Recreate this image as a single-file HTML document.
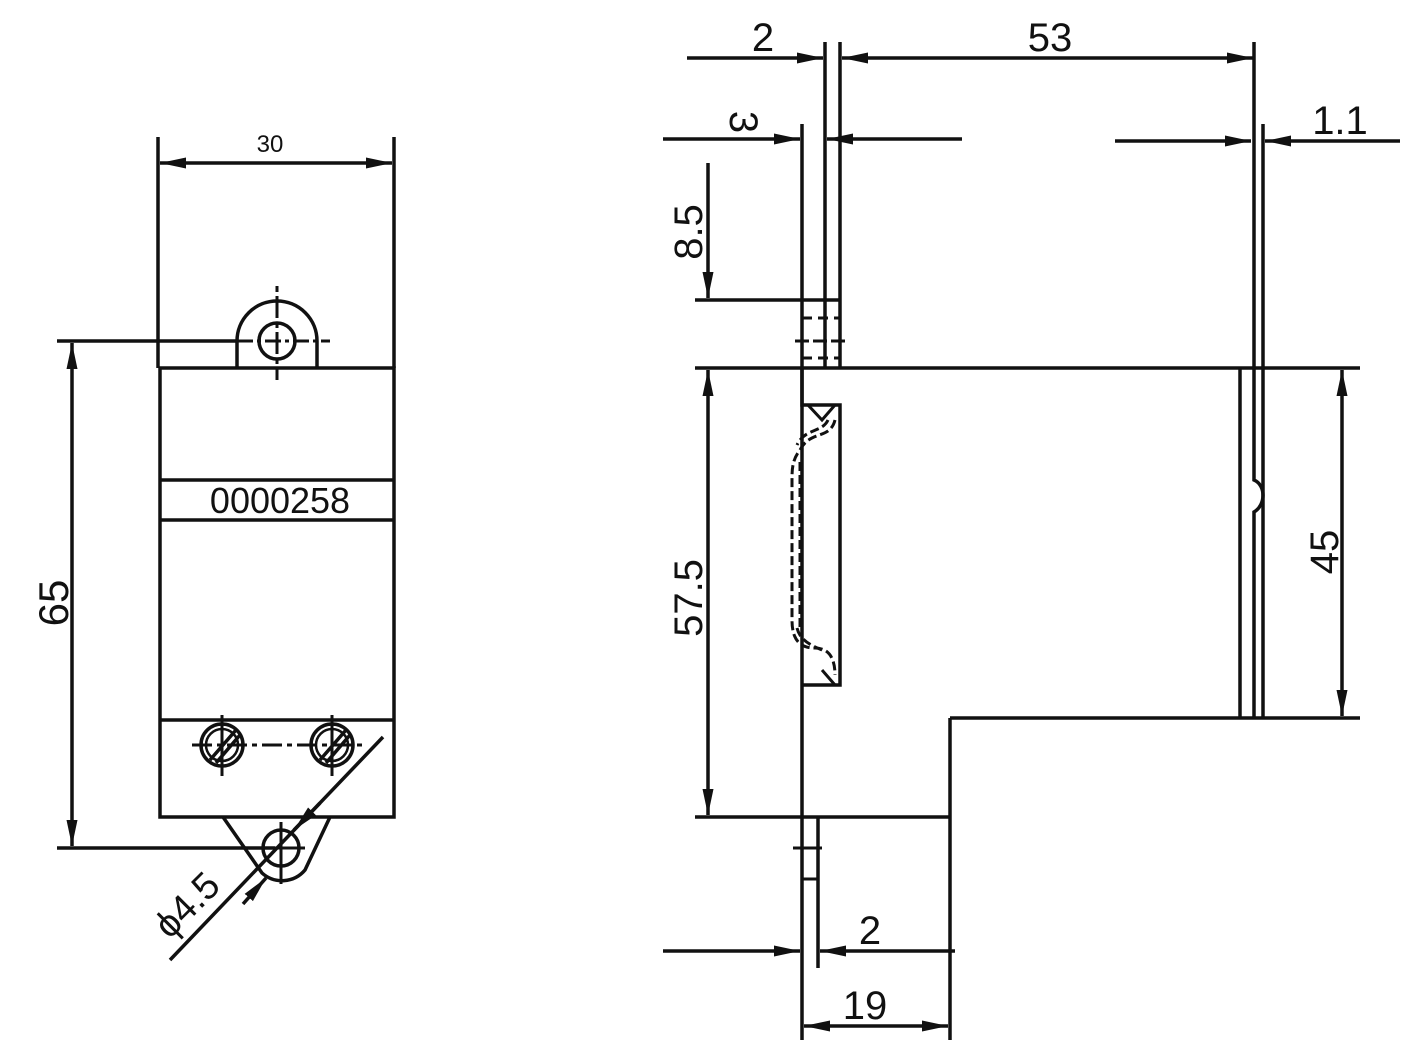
<!DOCTYPE html>
<html><head><meta charset="utf-8"><style>html,body{margin:0;padding:0;background:#fff}svg{display:block}</style></head>
<body>
<svg width="1422" height="1052" viewBox="0 0 1422 1052" xmlns="http://www.w3.org/2000/svg" font-family="Liberation Sans, DejaVu Sans, sans-serif">
<defs>
<marker id="a" viewBox="0 0 26 12" refX="26" refY="6" markerWidth="26" markerHeight="12" markerUnits="userSpaceOnUse" orient="auto-start-reverse"><path d="M0,0.5 L26,6 L0,11.5 z" fill="#111"/></marker>
</defs>
<g stroke="#111" stroke-width="3.5" fill="none" stroke-linecap="butt">
<!-- LEFT VIEW -->
<rect x="160" y="368" width="234" height="449"/>
<line x1="160" y1="480" x2="394" y2="480"/>
<line x1="160" y1="520" x2="394" y2="520"/>
<line x1="160" y1="720" x2="394" y2="720"/>
<line x1="158" y1="137" x2="158" y2="368"/>
<line x1="394" y1="137" x2="394" y2="368"/>
<line x1="160" y1="163" x2="392" y2="163" marker-start="url(#a)" marker-end="url(#a)"/>
<path d="M237,368 V341 A40,40 0 0 1 317,341 V368"/>
<circle cx="277" cy="341" r="18"/>
<line x1="277" y1="286" x2="277" y2="380" stroke-dasharray="6,4,22,4" stroke-width="3"/>
<line x1="57" y1="341" x2="237" y2="341"/>
<line x1="237" y1="341" x2="330" y2="341" stroke-dasharray="16,4,4,4" stroke-width="3"/>
<line x1="57" y1="848" x2="275" y2="848"/>
<line x1="72" y1="343" x2="72" y2="846" marker-start="url(#a)" marker-end="url(#a)"/>
<!-- screws -->
<circle cx="222" cy="745" r="21"/><circle cx="222" cy="745" r="16" stroke-width="2.5"/>
<circle cx="332" cy="745" r="21"/><circle cx="332" cy="745" r="16" stroke-width="2.5"/>
<line x1="210" y1="760" x2="236" y2="730"/><line x1="216" y1="763" x2="240" y2="735"/>
<line x1="320" y1="760" x2="346" y2="730"/><line x1="326" y1="763" x2="350" y2="735"/>
<line x1="192" y1="745" x2="362" y2="745" stroke-dasharray="20,5,5,5" stroke-width="3"/>
<line x1="222" y1="715" x2="222" y2="776" stroke-width="3"/>
<line x1="332" y1="715" x2="332" y2="776" stroke-width="3"/>
<!-- bottom tab -->
<path d="M223,817 L262,873 A30,30 0 0 0 305,870 L330,817"/>
<circle cx="281" cy="848" r="18"/>
<line x1="281" y1="822" x2="281" y2="884" stroke-width="3"/>
<line x1="255" y1="848" x2="305" y2="848" stroke-width="3"/>
<line x1="383" y1="737" x2="170" y2="960"/>
<line x1="320" y1="803" x2="294" y2="830" marker-end="url(#a)"/>
<line x1="243" y1="904" x2="266" y2="878" marker-end="url(#a)"/>
<!-- RIGHT VIEW -->
<line x1="802" y1="124" x2="802" y2="1040"/>
<line x1="825" y1="42" x2="825" y2="368"/>
<line x1="840" y1="42" x2="840" y2="368"/>
<line x1="687" y1="58" x2="823" y2="58" marker-end="url(#a)"/>
<line x1="842" y1="58" x2="1253" y2="58" marker-start="url(#a)" marker-end="url(#a)"/>
<line x1="663" y1="139" x2="800" y2="139" marker-end="url(#a)"/>
<line x1="827" y1="139" x2="962" y2="139" marker-start="url(#a)"/>
<line x1="708" y1="163" x2="708" y2="298" marker-end="url(#a)"/>
<line x1="695" y1="300" x2="840" y2="300"/>
<line x1="695" y1="368" x2="1360" y2="368"/>
<g stroke-width="3"><line x1="802" y1="318" x2="840" y2="318" stroke-dasharray="10,6"/><line x1="795" y1="341" x2="845" y2="341" stroke-dasharray="14,4"/><line x1="802" y1="358" x2="840" y2="358" stroke-dasharray="10,6"/></g>
<line x1="708" y1="370" x2="708" y2="815" marker-start="url(#a)" marker-end="url(#a)"/>
<line x1="695" y1="817" x2="950" y2="817"/>
<path d="M802,368 V405 H840 V685 H802"/>
<path d="M808,405 L835,405 L822,420 Z" stroke-width="3"/>
<path d="M808,685 L835,685 L822,670" stroke-width="3"/>
<g stroke-width="3" stroke-dasharray="9,4">
<path d="M835,420 C830,440 810,430 800,450 C792,460 792,470 792,480 V620 C792,640 800,648 815,648 C830,648 835,660 835,675"/>
<path d="M828,420 C822,433 805,428 797,445"/>
<path d="M800,462 V630"/>
<path d="M797,628 C800,640 810,645 822,650"/>
</g>
<line x1="950" y1="718" x2="950" y2="1040"/>
<line x1="950" y1="718" x2="1360" y2="718"/>
<line x1="1240" y1="368" x2="1240" y2="718"/>
<path d="M1254,42 V480 C1266,485 1266,505 1254,512 V718"/>
<path d="M1263,124 V718"/>
<line x1="1115" y1="141" x2="1251" y2="141" marker-end="url(#a)"/>
<line x1="1265" y1="141" x2="1400" y2="141" marker-start="url(#a)"/>
<line x1="1342" y1="370" x2="1342" y2="716" marker-start="url(#a)" marker-end="url(#a)"/>
<line x1="818" y1="817" x2="818" y2="968"/>
<line x1="793" y1="848" x2="822" y2="848" stroke-width="3"/>
<line x1="802" y1="879" x2="818" y2="879" stroke-width="3"/>
<line x1="663" y1="951" x2="800" y2="951" marker-end="url(#a)"/>
<line x1="820" y1="951" x2="955" y2="951" marker-start="url(#a)"/>
<line x1="804" y1="1026" x2="948" y2="1026" marker-start="url(#a)" marker-end="url(#a)"/>
</g>
<g fill="#111">
<text x="270" y="152" font-size="24" text-anchor="middle">30</text>
<text x="280" y="513" font-size="36" text-anchor="middle">0000258</text>
<text transform="translate(68,603) rotate(-90)" font-size="42" text-anchor="middle">65</text>
<text transform="translate(196,914) rotate(-45)" font-size="38" text-anchor="middle">ϕ4.5</text>
<text x="763" y="51" font-size="40" text-anchor="middle">2</text>
<text x="1050" y="51" font-size="40" text-anchor="middle">53</text>
<text transform="translate(730,122) rotate(90)" font-size="40" text-anchor="middle">3</text>
<text transform="translate(702,232) rotate(-90)" font-size="40" text-anchor="middle">8.5</text>
<text transform="translate(702,598) rotate(-90)" font-size="40" text-anchor="middle">57.5</text>
<text x="1340" y="134" font-size="40" text-anchor="middle">1.1</text>
<text transform="translate(1338,552) rotate(-90)" font-size="40" text-anchor="middle">45</text>
<text x="870" y="944" font-size="40" text-anchor="middle">2</text>
<text x="865" y="1019" font-size="40" text-anchor="middle">19</text>
</g>
</svg>
</body></html>
